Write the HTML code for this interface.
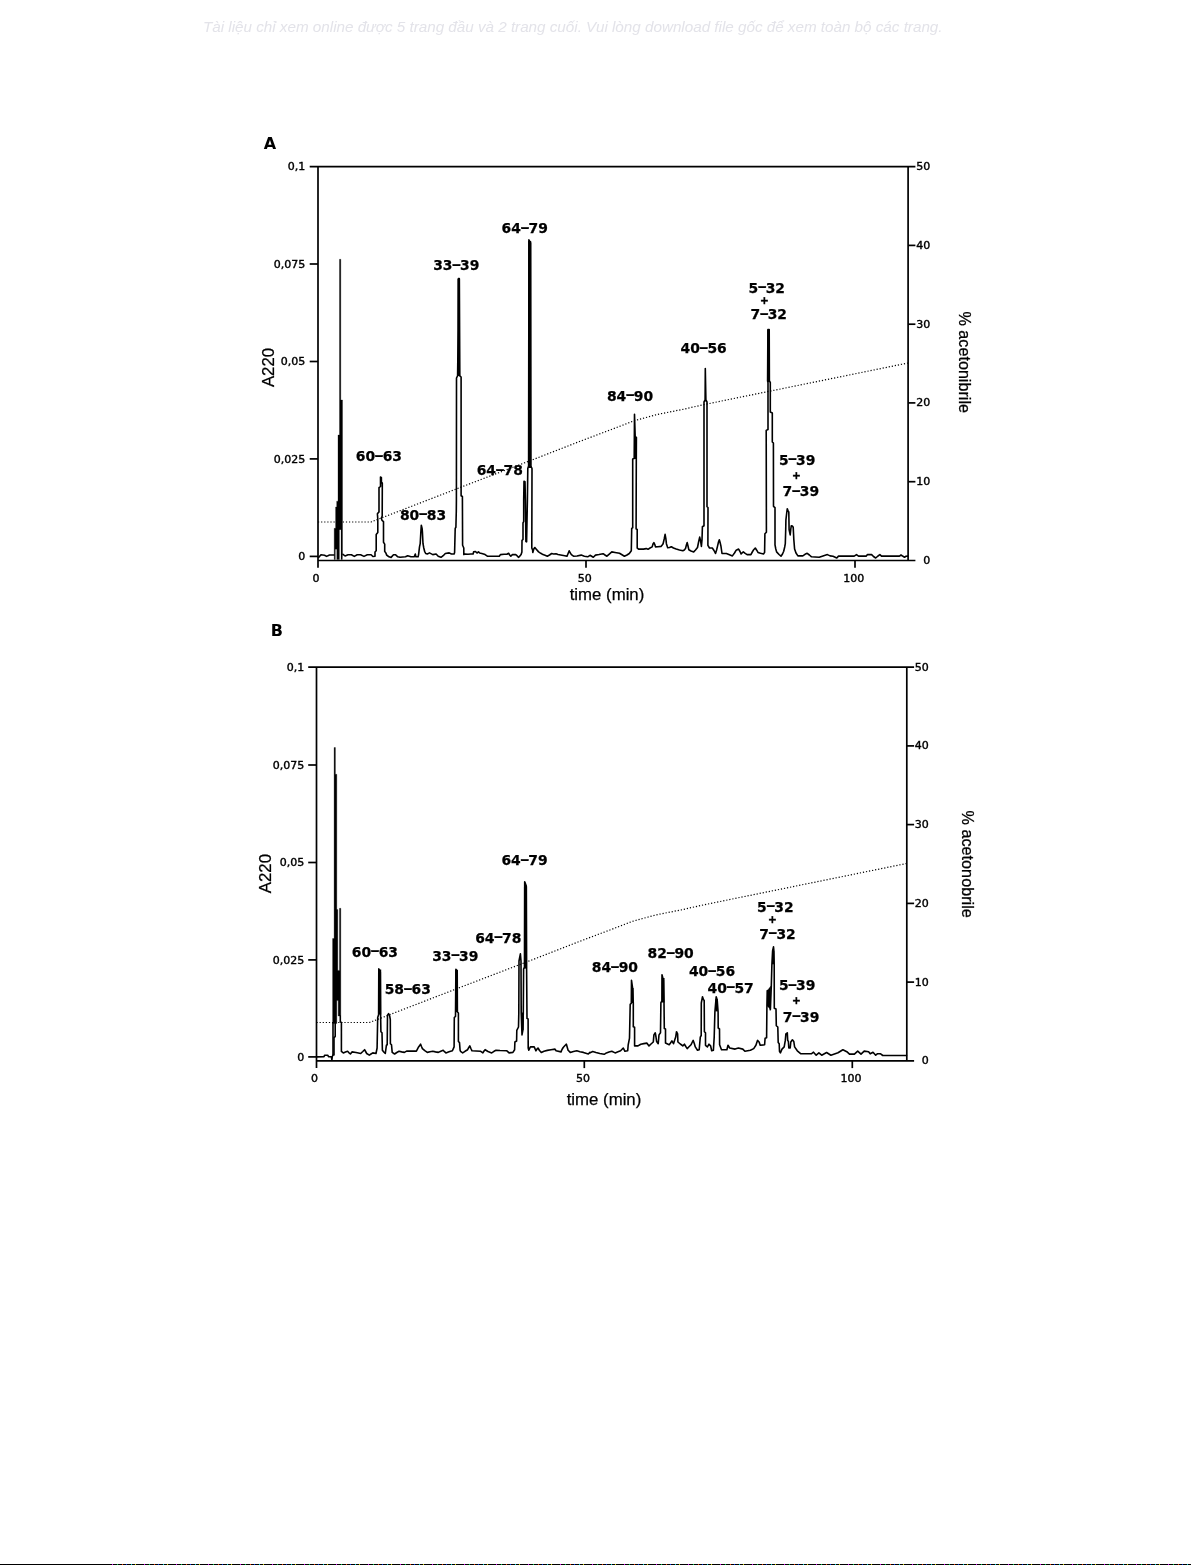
<!DOCTYPE html>
<html lang="vi"><head><meta charset="utf-8"><title>Figure</title>
<style>
html,body{margin:0;padding:0;background:#fff;}
body{width:1191px;height:1565px;position:relative;overflow:hidden;font-family:"Liberation Sans",sans-serif;}
.wm{position:absolute;left:203px;top:17.8px;font:italic 15.25px "Liberation Sans",sans-serif;color:#e3e3e9;white-space:nowrap;letter-spacing:-0.02px;filter:blur(0.5px);}
svg{position:absolute;left:0;top:0;}
.ax{stroke:#000;stroke-width:1.7;fill:none;shape-rendering:geometricPrecision;}
.tr{stroke:#000;stroke-width:1.6;fill:none;stroke-linejoin:round;stroke-linecap:round;}
.fillk{fill:#000;stroke:#000;stroke-width:0.3;stroke-linejoin:round;}
.dot{stroke:#000;stroke-width:1.2;fill:none;stroke-dasharray:1.2 1.9;}
.tk{font-family:"DejaVu Sans","Liberation Sans",sans-serif;font-size:11px;fill:#000;stroke:#000;stroke-width:0.4px;}
.pk{font-family:"DejaVu Sans","Liberation Sans",sans-serif;font-weight:bold;font-size:13.9px;fill:#000;stroke:#000;stroke-width:0.25px;}
.pl{font-family:"DejaVu Sans","Liberation Sans",sans-serif;font-weight:bold;font-size:10.5px;fill:#000;stroke:#000;stroke-width:0.4px;}
.hd{font-family:"DejaVu Sans","Liberation Sans",sans-serif;font-weight:bold;font-size:16px;fill:#000;}
.al{font-family:"Liberation Sans",sans-serif;font-size:16.8px;fill:#000;stroke:#000;stroke-width:0.25px;}
.ar{font-family:"Liberation Sans",sans-serif;font-size:16.1px;fill:#000;stroke:#000;stroke-width:0.25px;}
.bot{position:absolute;left:0;top:1564px;width:1191px;height:1px;background:#000;}
.bot i{position:absolute;left:107px;top:0;width:1084px;height:1px;background:repeating-linear-gradient(90deg,#000 0 5px,#d0f 5px 6px,#000 6px 10px,#0c4 10px 11px,#000 11px 15px,#e40 15px 16px,#000 16px 19px,#03e 19px 20px,#000 20px 24px,#0cc 24px 25px,#000 25px 28px,#cc0 28px 29px,#000 29px 32px);}
</style></head><body>
<div class="wm">Tài liệu chỉ xem online được 5 trang đầu và 2 trang cuối. Vui lòng download file gốc để xem toàn bộ các trang.</div>
<svg width="1191" height="1565" viewBox="0 0 1191 1565">

<path class="ax" d="M309.7,166.6 H915.4 M318.0,166.6 V567.8 M908.1,166.6 V561.2 M317.3,560.5 H915.4"/>
<text class="tk" x="305.3" y="170.2" text-anchor="end">0,1</text>
<path class="ax" d="M309.7,264.0 H318.0"/>
<text class="tk" x="305.3" y="267.6" text-anchor="end">0,075</text>
<path class="ax" d="M309.7,361.5 H318.0"/>
<text class="tk" x="305.3" y="365.1" text-anchor="end">0,05</text>
<path class="ax" d="M309.7,458.9 H318.0"/>
<text class="tk" x="305.3" y="462.5" text-anchor="end">0,025</text>
<path class="ax" d="M309.7,556.4 H318.0"/>
<text class="tk" x="305.3" y="560.0" text-anchor="end">0</text>
<text class="tk" x="930.2" y="170.0" text-anchor="end">50</text>
<path class="ax" d="M908.1,245.4 H915.4"/>
<text class="tk" x="930.2" y="248.8" text-anchor="end">40</text>
<path class="ax" d="M908.1,324.2 H915.4"/>
<text class="tk" x="930.2" y="327.6" text-anchor="end">30</text>
<path class="ax" d="M908.1,402.9 H915.4"/>
<text class="tk" x="930.2" y="406.3" text-anchor="end">20</text>
<path class="ax" d="M908.1,481.7 H915.4"/>
<text class="tk" x="930.2" y="485.1" text-anchor="end">10</text>
<text class="tk" x="930.2" y="563.9" text-anchor="end">0</text>
<text class="tk" x="316.0" y="581.6" text-anchor="middle">0</text>
<path class="ax" d="M586.0,560.5 V567.8"/>
<text class="tk" x="584.8" y="581.6" text-anchor="middle">50</text>
<path class="ax" d="M855.0,560.5 V567.8"/>
<text class="tk" x="853.8" y="581.6" text-anchor="middle">100</text>
<path class="dot" d="M318.0,522.0 L371.0,522.0 L457.5,488.5 L540.0,456.9 L580.0,441.3 L615.6,427.9 L634.0,420.8 L657.5,414.4 L682.7,409.4 L705.4,404.3 L908.0,363.0"/>
<path class="fillk" d="M334.2,559.5 L334.2,528.3 L335.6,528.3 L335.6,507.0 L336.7,507.0 L336.7,501.2 L338.0,501.2 L338.0,435.0 L339.5,435.0 L339.5,259.3 L340.8,259.3 L340.8,400.0 L342.5,400.0 L342.5,554.0 L342.3,559.5Z"/>
<rect x="335.4" y="549.3" width="1.3" height="10.4" fill="#e6e6e6"/>
<rect x="339.5" y="529.8" width="1.5" height="29.9" fill="#e6e6e6"/>
<path class="tr" d="M318.6,557.5 L321.0,554.8 L324.5,555.2 L326.6,556.4 L329.5,555.0 L334.0,555.0"/>
<path class="tr" d="M343.0,554.3 L345.1,556.0 L348.0,554.8 L351.4,554.8 L354.3,556.4 L357.2,554.8 L360.6,554.8 L364.0,556.4 L367.3,554.8 L371.1,554.7 L372.9,556.5 L375.0,556.2 L375.0,552.0 L376.2,550.8 L376.2,534.4 L377.8,532.5 L377.8,519.2 L377.4,513.7 L379.0,511.9 L379.0,487.6 L380.5,486.4 L380.5,477.0 L381.4,477.6 L381.4,482.1 L382.3,483.1 L382.3,487.0 L382.2,516.1 L381.4,518.0 L382.0,520.4 L383.5,521.6 L383.5,542.3 L384.7,544.1 L384.7,551.4 L386.0,553.2 L386.6,555.0 L389.0,556.8 L391.1,557.4 L393.5,554.7 L395.4,554.7 L397.8,556.8 L400.0,557.3 L405.5,556.8 L407.7,555.7 L411.0,556.8 L414.2,556.8 L415.3,554.0 L415.9,556.8 L418.1,556.8 L418.6,554.6 L419.5,546.9 L420.2,543.7 L420.8,532.8 L421.3,525.3 L422.1,528.4 L422.4,531.7 L423.0,543.7 L423.8,548.0 L424.6,551.3 L425.7,553.5 L427.3,554.0 L429.5,552.9 L432.8,554.6 L436.1,554.0 L438.2,556.2 L441.0,557.3 L443.2,555.7 L445.3,553.5 L449.2,552.9 L451.4,554.0 L454.1,554.0 L454.6,552.4 L455.2,528.4 L455.9,527.3 L456.3,510.9 L456.4,500.0 L456.5,378.0 L457.6,375.8 L458.2,330.0 L458.4,278.5 L459.3,278.5 L459.8,375.8 L461.1,377.0 L461.1,495.7 L462.4,496.5 L462.6,545.3 L463.8,548.0 L463.8,554.6 L465.0,554.0 L468.0,554.3 L470.9,554.0 L473.1,554.0 L473.6,551.9 L475.5,551.5 L477.0,553.0 L478.5,551.9 L479.7,553.0 L481.8,553.5 L483.5,554.0 L485.1,554.6 L487.3,556.2 L493.0,556.2 L499.3,556.2 L500.4,554.6 L504.0,554.3 L506.9,554.3 L508.6,553.3 L509.7,555.0 L510.8,556.2 L512.4,554.6 L515.7,554.6 L517.0,555.7 L518.4,557.3 L519.5,556.5 L521.1,554.6 L521.9,552.0 L522.0,540.4 L523.0,539.5 L523.0,522.9 L523.7,521.5 L523.7,500.0 L524.0,481.3 L525.0,481.8 L525.4,500.0 L525.9,541.5 L526.6,541.8 L527.4,500.0 L527.8,468.5 L528.6,466.0 L528.9,239.8 L530.6,243.0 L530.9,466.0 L532.0,468.5 L531.8,548.0 L532.6,550.0 L532.8,552.4 L533.8,549.0 L534.8,547.5 L536.5,549.5 L538.6,551.9 L540.8,553.3 L543.0,554.6 L545.0,555.3 L547.3,556.2 L549.5,555.0 L551.7,553.5 L553.5,554.0 L556.0,553.7 L558.0,554.5 L562.0,555.2 L564.8,555.7 L567.0,556.2 L568.3,553.0 L569.2,550.8 L570.3,553.0 L571.4,554.6 L573.5,556.2 L577.0,556.0 L581.2,555.1 L584.4,556.2 L587.7,556.8 L590.0,555.3 L593.3,557.3 L595.5,555.1 L599.0,554.5 L603.1,553.7 L605.0,555.0 L606.9,556.2 L609.0,554.3 L611.8,551.9 L615.0,552.5 L619.5,553.3 L622.0,554.8 L624.4,556.2 L627.0,555.0 L629.3,553.5 L631.3,550.8 L631.7,528.4 L632.7,527.8 L632.7,459.0 L634.2,458.5 L634.5,414.2 L635.2,436.7 L636.4,437.5 L636.3,458.8 L636.1,528.9 L637.2,529.5 L637.2,548.0 L638.6,549.1 L643.5,549.1 L646.2,548.6 L648.0,549.3 L650.0,548.0 L652.2,546.9 L653.0,544.0 L653.9,542.6 L654.8,544.5 L655.5,546.9 L658.0,546.8 L661.0,546.4 L662.2,545.0 L663.1,543.7 L664.2,539.0 L665.1,534.4 L665.9,539.0 L666.4,543.7 L667.7,547.8 L669.5,547.5 L671.3,546.7 L673.5,548.0 L676.2,549.1 L679.5,550.0 L682.8,550.8 L684.3,550.0 L685.5,548.6 L686.4,545.0 L687.2,542.6 L688.0,546.0 L688.8,549.7 L691.0,551.0 L693.7,551.9 L695.5,550.0 L697.5,547.5 L698.6,542.0 L699.7,537.1 L700.6,541.0 L701.4,546.4 L702.0,540.0 L702.4,526.7 L704.0,525.7 L704.0,402.0 L705.1,400.0 L705.3,368.6 L705.9,400.0 L707.0,402.0 L707.0,506.7 L708.0,507.5 L707.9,545.3 L709.5,548.0 L712.3,548.0 L714.0,550.5 L715.5,553.5 L716.6,550.0 L717.6,545.9 L718.5,542.0 L719.3,539.8 L720.1,542.5 L720.9,545.9 L721.5,550.0 L722.0,553.5 L726.4,553.5 L729.5,554.7 L732.4,555.9 L734.5,553.0 L736.2,550.2 L738.6,549.1 L740.0,551.5 L741.1,554.0 L742.2,552.8 L743.3,551.9 L745.2,553.4 L747.1,554.6 L750.9,554.6 L752.3,552.0 L753.7,549.7 L755.3,548.0 L756.7,550.2 L758.0,552.4 L760.5,553.3 L763.5,554.0 L764.6,552.4 L764.9,533.8 L766.4,532.2 L766.2,430.4 L768.0,429.5 L768.0,382.5 L767.6,381.0 L767.9,329.5 L769.2,329.5 L769.4,381.0 L770.3,382.5 L770.3,412.0 L772.3,413.0 L772.3,441.9 L773.4,443.0 L773.5,506.3 L775.0,507.6 L775.0,544.8 L775.8,549.0 L776.6,551.9 L779.0,554.5 L781.0,556.2 L782.5,554.0 L783.7,551.3 L784.7,547.0 L785.3,543.7 L785.7,530.0 L785.9,520.2 L786.7,513.0 L787.3,508.7 L788.1,511.0 L788.8,512.0 L789.1,529.5 L790.2,534.9 L790.8,529.0 L791.3,525.7 L792.3,526.0 L793.2,527.3 L793.6,535.0 L793.8,539.3 L794.6,549.1 L796.0,553.0 L797.9,555.9 L802.8,555.9 L805.0,554.3 L807.2,553.3 L809.4,555.0 L811.5,556.8 L815.0,557.0 L819.2,557.3 L823.0,556.0 L827.4,554.6 L830.1,555.9 L833.0,556.3 L836.8,558.0 L838.5,556.1 L854.2,556.1 L856.5,554.6 L858.5,556.1 L866.3,556.1 L867.5,554.6 L871.6,554.6 L873.5,556.5 L875.7,558.0 L878.0,556.0 L879.9,554.6 L881.5,556.1 L899.5,556.1 L901.0,555.0 L903.0,556.3 L904.5,557.2 L906.0,556.3 L907.5,556.1"/>
<path d="M529.7,241.0 L529.7,468.0" stroke="#000" stroke-width="3.0" fill="none"/>
<path d="M458.8,279.0 L458.8,376.0" stroke="#000" stroke-width="2.5" fill="none"/>
<path d="M768.5,330.0 L768.5,382.0" stroke="#000" stroke-width="2.3" fill="none"/>
<path d="M635.4,437.0 L635.4,459.0" stroke="#000" stroke-width="2.4" fill="none"/>
<g class="pk"><text x="355.8" y="461.4">60</text><text transform="translate(374.10,460.00) scale(1.72,0.91)">-</text><text x="382.7" y="461.4">63</text></g>
<g class="pk"><text x="399.9" y="519.7">80</text><text transform="translate(418.20,518.30) scale(1.72,0.91)">-</text><text x="426.8" y="519.7">83</text></g>
<g class="pk"><text x="433.2" y="270.0">33</text><text transform="translate(451.50,268.60) scale(1.72,0.91)">-</text><text x="460.1" y="270.0">39</text></g>
<g class="pk"><text x="501.6" y="232.9">64</text><text transform="translate(519.90,231.50) scale(1.72,0.91)">-</text><text x="528.5" y="232.9">79</text></g>
<g class="pk"><text x="476.7" y="475.4">64</text><text transform="translate(495.00,474.00) scale(1.72,0.91)">-</text><text x="503.6" y="475.4">78</text></g>
<g class="pk"><text x="606.9" y="400.5">84</text><text transform="translate(625.20,399.10) scale(1.72,0.91)">-</text><text x="633.8" y="400.5">90</text></g>
<g class="pk"><text x="680.5" y="353.4">40</text><text transform="translate(698.80,352.00) scale(1.72,0.91)">-</text><text x="707.4" y="353.4">56</text></g>
<g class="pk"><text x="748.5" y="292.6">5</text><text transform="translate(757.13,291.20) scale(1.72,0.91)">-</text><text x="765.7" y="292.6">32</text></g>
<g class="pk"><text x="750.5" y="318.9">7</text><text transform="translate(759.13,317.50) scale(1.72,0.91)">-</text><text x="767.7" y="318.9">32</text></g>
<g class="pk"><text x="778.9" y="464.6">5</text><text transform="translate(787.53,463.20) scale(1.72,0.91)">-</text><text x="796.1" y="464.6">39</text></g>
<g class="pk"><text x="782.6" y="496.2">7</text><text transform="translate(791.23,494.80) scale(1.72,0.91)">-</text><text x="799.8" y="496.2">39</text></g>
<text class="pl" x="764.3" y="304.1" text-anchor="middle">+</text>
<text class="pl" x="796.5" y="478.8" text-anchor="middle">+</text>
<text class="hd" x="263.8" y="148.6">A</text>
<text class="al" transform="translate(273.6,367.5) rotate(-90)" text-anchor="middle">A220</text>
<text class="al" x="607.0" y="599.8" text-anchor="middle">time (min)</text>
<text class="ar" transform="translate(958.6,311.5) rotate(90)" textLength="101.5" lengthAdjust="spacingAndGlyphs">% acetonibrile</text>
<path class="ax" d="M308.2,667.2 H914.1 M316.5,667.2 V1068.1 M906.8,667.2 V1061.5 M315.8,1060.8 H914.1"/>
<text class="tk" x="304.2" y="670.8" text-anchor="end">0,1</text>
<path class="ax" d="M308.2,765.0 H316.5"/>
<text class="tk" x="304.2" y="768.6" text-anchor="end">0,075</text>
<path class="ax" d="M308.2,862.5 H316.5"/>
<text class="tk" x="304.2" y="866.1" text-anchor="end">0,05</text>
<path class="ax" d="M308.2,959.9 H316.5"/>
<text class="tk" x="304.2" y="963.5" text-anchor="end">0,025</text>
<path class="ax" d="M308.2,1056.9 H316.5"/>
<text class="tk" x="304.2" y="1060.5" text-anchor="end">0</text>
<text class="tk" x="928.8" y="670.6" text-anchor="end">50</text>
<path class="ax" d="M906.8,745.9 H914.1"/>
<text class="tk" x="928.8" y="749.3" text-anchor="end">40</text>
<path class="ax" d="M906.8,824.6 H914.1"/>
<text class="tk" x="928.8" y="828.0" text-anchor="end">30</text>
<path class="ax" d="M906.8,903.4 H914.1"/>
<text class="tk" x="928.8" y="906.8" text-anchor="end">20</text>
<path class="ax" d="M906.8,982.1 H914.1"/>
<text class="tk" x="928.8" y="985.5" text-anchor="end">10</text>
<text class="tk" x="928.8" y="1064.2" text-anchor="end">0</text>
<text class="tk" x="314.5" y="1081.9" text-anchor="middle">0</text>
<path class="ax" d="M584.3,1060.8 V1068.1"/>
<text class="tk" x="583.1" y="1081.9" text-anchor="middle">50</text>
<path class="ax" d="M852.3,1060.8 V1068.1"/>
<text class="tk" x="851.1" y="1081.9" text-anchor="middle">100</text>
<path class="dot" d="M316.5,1022.5 L369.5,1022.5 L456.0,989.0 L538.5,957.4 L578.5,941.8 L614.1,928.4 L632.5,921.3 L656.0,914.9 L681.2,909.9 L703.9,904.8 L906.5,863.5"/>
<path class="fillk" d="M332.6,1023.6 L332.6,938.5 L334.1,938.5 L334.1,747.5 L335.4,747.5 L335.4,774.3 L336.8,774.3 L336.8,909.6 L337.8,909.6 L337.8,970.4 L339.5,970.4 L339.5,908.3 L340.8,908.3 L340.8,1016.0 L338.2,1016.0 L338.2,1000.6 L336.8,1000.6 L336.8,1023.6Z"/>
<path class="fillk" d="M767.0,991.0 L770.8,986.0 L770.8,1009.5 L767.0,1006.0Z"/>
<path class="tr" d="M317.0,1056.9 L324.0,1056.7 L324.7,1055.2 L327.7,1055.2 L328.5,1056.7 L331.3,1056.7 L331.9,1060.0 L332.3,1056.5 L333.0,1055.0"/>
<path class="tr" d="M333.0,1023.0 L333.0,1055.0"/>
<path class="tr" d="M335.2,1023.0 L335.2,1036.6 L334.0,1037.5 L334.0,1055.0"/>
<path class="tr" d="M340.3,1016.0 L340.3,1021.8 L341.4,1022.5 L341.4,1051.4 L343.3,1052.9 L345.5,1052.0 L347.6,1051.3 L349.0,1052.8 L350.4,1054.0 L352.0,1051.9 L356.0,1052.5 L360.7,1053.5 L362.8,1051.5 L364.6,1049.7 L365.6,1051.5 L366.7,1053.5 L369.3,1055.1 L371.0,1054.0 L372.8,1052.9 L376.0,1053.5 L377.1,1048.0 L377.7,1017.5 L378.6,1014.7 L378.8,968.9 L380.3,972.0 L380.6,1014.0 L380.9,1031.7 L382.0,1032.8 L382.4,1050.2 L383.8,1052.0 L385.3,1053.5 L386.4,1045.3 L387.2,1044.8 L387.5,1015.3 L388.6,1013.6 L389.7,1016.0 L390.3,1019.7 L390.4,1043.7 L391.5,1044.8 L392.2,1052.4 L394.6,1054.0 L396.8,1052.5 L399.0,1051.3 L401.7,1051.9 L404.4,1052.4 L406.6,1051.1 L416.4,1051.1 L418.6,1046.9 L420.6,1044.2 L421.5,1046.5 L422.4,1048.6 L424.8,1050.7 L427.3,1052.4 L430.0,1051.8 L432.8,1051.3 L435.5,1051.9 L438.3,1052.4 L440.8,1051.2 L443.2,1050.2 L444.5,1051.7 L445.9,1052.9 L449.0,1051.8 L452.4,1050.8 L454.1,1046.9 L454.3,1017.5 L455.5,1016.4 L455.9,969.3 L457.2,970.5 L457.4,1012.0 L458.4,1013.0 L458.4,1041.5 L459.5,1042.6 L460.1,1050.2 L460.5,1051.3 L462.7,1052.9 L465.0,1051.3 L467.6,1049.7 L468.8,1047.5 L469.8,1045.9 L470.9,1048.5 L472.0,1050.8 L476.0,1051.0 L480.7,1051.3 L482.9,1052.9 L484.0,1051.0 L485.1,1049.7 L488.0,1051.5 L491.7,1052.9 L494.0,1051.3 L496.0,1050.2 L500.0,1050.5 L506.9,1050.8 L509.1,1052.9 L512.9,1052.4 L514.6,1049.7 L514.9,1042.0 L516.6,1041.0 L516.8,1030.3 L518.5,1027.0 L518.8,1013.0 L519.0,961.0 L520.4,953.9 L521.0,961.0 L521.2,1012.6 L522.0,1034.9 L522.9,1030.0 L523.3,1012.6 L523.6,969.0 L524.5,967.0 L524.7,881.7 L526.3,886.0 L526.6,968.6 L527.0,1018.4 L528.1,1019.0 L528.2,1048.0 L528.8,1050.2 L530.4,1046.9 L534.2,1046.9 L535.9,1050.8 L537.0,1049.0 L538.0,1048.0 L539.5,1050.5 L541.3,1052.4 L544.0,1051.2 L547.3,1050.4 L551.0,1049.7 L555.0,1049.1 L556.1,1050.8 L561.0,1051.9 L562.0,1049.5 L563.2,1047.5 L565.0,1045.5 L566.4,1044.2 L567.3,1047.5 L568.1,1050.2 L570.3,1052.4 L573.5,1051.5 L576.8,1050.8 L580.0,1051.7 L583.4,1052.4 L588.3,1054.0 L589.9,1052.4 L590.0,1052.9 L592.7,1051.5 L596.0,1052.5 L599.8,1053.5 L604.2,1054.3 L606.4,1052.9 L609.0,1052.0 L611.8,1051.3 L615.1,1052.9 L618.0,1051.8 L620.6,1050.8 L623.3,1048.0 L624.9,1051.3 L627.7,1050.8 L628.2,1044.8 L629.5,1038.2 L630.2,1004.4 L631.3,1003.3 L631.5,980.3 L632.6,988.0 L633.3,1003.0 L633.3,1026.7 L634.6,1027.3 L634.6,1045.9 L638.0,1045.9 L640.8,1044.2 L643.8,1043.6 L646.8,1043.1 L649.0,1045.9 L651.0,1044.0 L653.3,1042.0 L653.9,1034.9 L655.3,1032.8 L656.0,1037.0 L656.6,1041.5 L658.2,1043.7 L659.0,1034.9 L660.5,1032.8 L660.9,1002.6 L661.9,1001.0 L662.0,974.7 L663.3,980.0 L664.0,1002.0 L664.3,1028.4 L665.5,1028.9 L665.5,1043.1 L669.2,1044.8 L670.5,1043.0 L671.9,1040.9 L673.5,1043.7 L674.7,1040.0 L675.7,1037.1 L676.5,1031.7 L677.6,1033.8 L677.9,1042.0 L680.3,1044.0 L682.8,1045.9 L684.4,1044.2 L685.8,1046.5 L687.2,1048.6 L689.0,1046.8 L691.0,1044.8 L692.1,1042.5 L693.2,1040.4 L694.3,1043.5 L695.3,1046.9 L697.5,1050.2 L699.2,1049.7 L700.3,1037.1 L701.2,1035.5 L701.3,1003.0 L702.5,996.7 L703.4,999.5 L704.2,1000.5 L704.4,1031.7 L705.5,1032.8 L705.5,1045.3 L707.4,1046.9 L709.0,1044.2 L710.6,1045.9 L711.7,1050.8 L713.4,1050.2 L714.2,1037.1 L714.9,1012.0 L716.2,996.7 L717.2,1000.0 L718.1,1012.0 L718.2,1028.0 L719.5,1029.0 L719.6,1044.8 L721.5,1049.7 L726.9,1049.7 L728.0,1045.3 L729.7,1048.0 L735.1,1049.1 L738.4,1048.0 L742.8,1049.1 L744.9,1051.3 L750.4,1050.2 L753.7,1048.6 L755.9,1045.3 L757.5,1040.4 L759.1,1042.0 L760.2,1045.3 L764.6,1044.8 L765.1,1038.2 L766.6,1037.7 L766.9,1007.4 L767.3,990.6 L768.5,992.0 L770.3,1009.8 L771.3,986.0 L771.9,964.3 L772.6,951.0 L773.5,946.8 L773.9,951.0 L774.2,964.3 L774.3,1008.2 L776.0,1009.0 L776.3,1025.7 L777.8,1027.0 L778.2,1042.5 L779.2,1043.7 L779.5,1051.3 L780.4,1052.9 L782.0,1049.1 L784.2,1046.9 L785.3,1040.4 L785.9,1033.8 L787.3,1032.8 L787.7,1040.4 L788.4,1041.5 L788.8,1048.0 L790.2,1048.0 L790.8,1042.0 L792.4,1039.8 L793.8,1041.5 L794.6,1046.9 L797.3,1050.8 L800.9,1053.8 L811.3,1053.8 L813.5,1052.2 L816.2,1055.2 L818.9,1052.8 L821.7,1055.2 L826.6,1052.5 L830.9,1055.2 L838.0,1052.8 L842.9,1049.7 L846.8,1051.7 L849.5,1054.1 L854.4,1054.1 L857.7,1051.1 L861.0,1054.1 L864.2,1051.1 L868.6,1051.7 L870.2,1053.8 L873.0,1052.2 L875.7,1055.2 L877.3,1053.8 L880.6,1053.8 L882.8,1055.5 L906.5,1055.5"/>
<path d="M379.7,969.5 L379.7,1014.5" stroke="#000" stroke-width="3.0" fill="none"/>
<path d="M456.5,970.0 L456.5,1012.0" stroke="#000" stroke-width="2.7" fill="none"/>
<path d="M525.5,887.0 L525.5,968.6" stroke="#000" stroke-width="3.1" fill="none"/>
<path d="M632.5,988.0 L632.5,1003.0" stroke="#000" stroke-width="2.2" fill="none"/>
<path d="M663.2,978.0 L663.2,1002.5" stroke="#000" stroke-width="2.7" fill="none"/>
<path d="M716.6,999.0 L716.6,1011.4" stroke="#000" stroke-width="2.4" fill="none"/>
<path d="M773.1,951.0 L773.1,964.3" stroke="#000" stroke-width="2.2" fill="none"/>
<path d="M522.9,1012.6 L522.7,1030.0" stroke="#000" stroke-width="1.8" fill="none"/>
<g class="pk"><text x="351.8" y="956.6">60</text><text transform="translate(370.10,955.20) scale(1.72,0.91)">-</text><text x="378.7" y="956.6">63</text></g>
<g class="pk"><text x="384.7" y="994.1">58</text><text transform="translate(403.00,992.70) scale(1.72,0.91)">-</text><text x="411.6" y="994.1">63</text></g>
<g class="pk"><text x="432.2" y="960.8">33</text><text transform="translate(450.50,959.40) scale(1.72,0.91)">-</text><text x="459.1" y="960.8">39</text></g>
<g class="pk"><text x="501.4" y="865.2">64</text><text transform="translate(519.70,863.80) scale(1.72,0.91)">-</text><text x="528.3" y="865.2">79</text></g>
<g class="pk"><text x="475.2" y="942.8">64</text><text transform="translate(493.50,941.40) scale(1.72,0.91)">-</text><text x="502.1" y="942.8">78</text></g>
<g class="pk"><text x="591.8" y="972.2">84</text><text transform="translate(610.10,970.80) scale(1.72,0.91)">-</text><text x="618.7" y="972.2">90</text></g>
<g class="pk"><text x="647.5" y="957.9">82</text><text transform="translate(665.80,956.50) scale(1.72,0.91)">-</text><text x="674.4" y="957.9">90</text></g>
<g class="pk"><text x="688.9" y="976.1">40</text><text transform="translate(707.20,974.70) scale(1.72,0.91)">-</text><text x="715.8" y="976.1">56</text></g>
<g class="pk"><text x="707.5" y="992.6">40</text><text transform="translate(725.80,991.20) scale(1.72,0.91)">-</text><text x="734.4" y="992.6">57</text></g>
<g class="pk"><text x="757.1" y="911.8">5</text><text transform="translate(765.73,910.40) scale(1.72,0.91)">-</text><text x="774.3" y="911.8">32</text></g>
<g class="pk"><text x="759.2" y="938.5">7</text><text transform="translate(767.83,937.10) scale(1.72,0.91)">-</text><text x="776.4" y="938.5">32</text></g>
<g class="pk"><text x="778.9" y="990.0">5</text><text transform="translate(787.53,988.60) scale(1.72,0.91)">-</text><text x="796.1" y="990.0">39</text></g>
<g class="pk"><text x="782.8" y="1021.6">7</text><text transform="translate(791.43,1020.20) scale(1.72,0.91)">-</text><text x="800.0" y="1021.6">39</text></g>
<text class="pl" x="772.3" y="923.4" text-anchor="middle">+</text>
<text class="pl" x="796.3" y="1004.1" text-anchor="middle">+</text>
<text class="hd" x="270.8" y="635.8">B</text>
<text class="al" transform="translate(270.8,873.6) rotate(-90)" text-anchor="middle">A220</text>
<text class="al" x="604.0" y="1104.5" text-anchor="middle">time (min)</text>
<text class="ar" transform="translate(961.7,810.5) rotate(90)" textLength="107.3" lengthAdjust="spacingAndGlyphs">% acetonobrile</text>
</svg>
<div class="bot"><i></i></div>
</body></html>
